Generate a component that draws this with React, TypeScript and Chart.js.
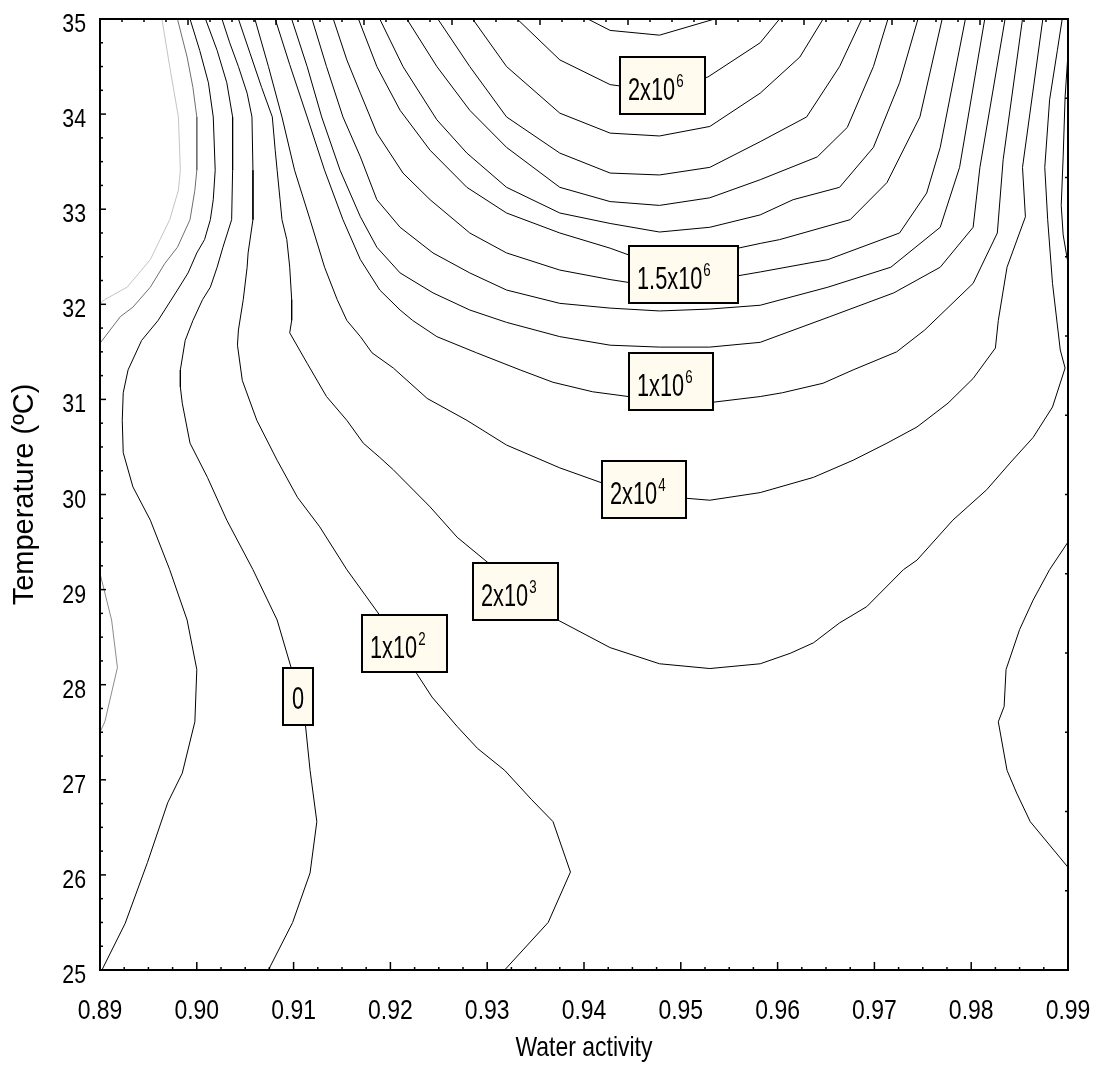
import React, { useEffect, useRef } from "react";
import { Chart, registerables } from "chart.js";

Chart.register(...registerables);

type Pt = [number, number]; // [water activity, temperature °C]

// Axis tick labels
const xTickLabels = ["0.89", "0.90", "0.91", "0.92", "0.93", "0.94", "0.95", "0.96", "0.97", "0.98", "0.99"];
const yTickLabels = ["25", "26", "27", "28", "29", "30", "31", "32", "33", "34", "35"];
const xTitle = "Water activity";
const yTitle = "Temperature (ºC)";

// Contour lines of the fitted response surface, [aw, T]
const contourNegA: Pt[] = [
  [0.8964, 35], [0.8972, 34.5], [0.8981, 33.97], [0.8983, 33.41], [0.8981, 33.2], [0.8972, 32.89],
  [0.8962, 32.68], [0.8952, 32.47], [0.8928, 32.18], [0.8905, 32.05], [0.89, 32.01],
];
const contourNegB: Pt[] = [
  [0.898, 35], [0.899, 34.6], [0.8996, 34.28], [0.9, 33.97], [0.9, 33.41], [0.8998, 33.2], [0.8993, 32.89],
  [0.898, 32.6], [0.8967, 32.43], [0.8952, 32.18], [0.8934, 31.97], [0.8921, 31.87], [0.89, 31.59],
];
const contourNegC: Pt[] = [
  [0.89, 29.17], [0.8912, 28.68], [0.8918, 28.18], [0.8905, 27.61], [0.89, 27.5],
];
const contourLow: Pt[] = [
  [0.8993, 35], [0.9003, 34.67], [0.9012, 34.33], [0.9017, 33.97], [0.9019, 33.41], [0.9017, 33.1],
  [0.9014, 32.89], [0.9008, 32.68], [0.9, 32.54], [0.8991, 32.33], [0.898, 32.15], [0.896, 31.83],
  [0.8943, 31.62], [0.8929, 31.31], [0.8924, 31.07], [0.8923, 30.78], [0.8924, 30.44], [0.8934, 30.08],
  [0.8952, 29.73], [0.8972, 29.21], [0.899, 28.68], [0.9, 28.16], [0.8998, 27.61], [0.8985, 27.07],
  [0.897, 26.76], [0.8949, 26.13], [0.8926, 25.49], [0.8902, 25],
];
const contour0: Pt[] = [
  [0.9009, 35], [0.9021, 34.67], [0.9031, 34.33], [0.9037, 33.97], [0.9037, 33.41], [0.9036, 32.89],
  [0.9027, 32.6], [0.9021, 32.39], [0.9014, 32.18], [0.9006, 32.05], [0.8996, 31.83], [0.8988, 31.62],
  [0.8983, 31.31], [0.8983, 31.13], [0.8985, 30.96], [0.8993, 30.54], [0.9011, 30.18], [0.9031, 29.73],
  [0.9058, 29.21], [0.9083, 28.68], [0.9098, 28.16], [0.9112, 27.6], [0.9117, 27.1], [0.9124, 26.56],
  [0.9117, 26.02], [0.9099, 25.5], [0.9074, 25],
];
const contour1e2: Pt[] = [
  [0.9026, 35], [0.9034, 34.75], [0.9043, 34.5], [0.9052, 34.22], [0.9057, 33.97], [0.9058, 33.41],
  [0.9058, 32.89], [0.9053, 32.54], [0.9052, 32.39], [0.9048, 32.05], [0.9043, 31.73], [0.9042, 31.57],
  [0.9047, 31.2], [0.9062, 30.78], [0.9083, 30.36], [0.9104, 29.97], [0.9127, 29.66], [0.9155, 29.21],
  [0.9189, 28.73], [0.9227, 28.12], [0.9243, 27.87], [0.9269, 27.56], [0.929, 27.33], [0.9318, 27.1],
  [0.9346, 26.79], [0.9368, 26.56], [0.9386, 26.03], [0.9363, 25.5], [0.9318, 25],
];
const contour1e2Right: Pt[] = [
  [0.99, 29.5], [0.9881, 29.21], [0.9864, 28.89], [0.985, 28.58], [0.9836, 28.16], [0.9834, 27.77],
  [0.9828, 27.61], [0.9837, 27.1], [0.9847, 26.86], [0.9861, 26.56], [0.99, 26.08],
];
const contour1e2RightTop: Pt[] = [
  [0.99, 34.64], [0.9897, 34.18], [0.9895, 33.55], [0.9893, 33.04], [0.9895, 32.73], [0.99, 32.43],
];
const contour2e3: Pt[] = [
  [0.9043, 35], [0.9055, 34.64], [0.9067, 34.28], [0.9078, 33.97], [0.9081, 33.62], [0.9083, 33.41],
  [0.9086, 33.1], [0.9088, 32.89], [0.9093, 32.68], [0.9096, 32.39], [0.9098, 32.05], [0.9098, 31.83],
  [0.9096, 31.7], [0.9114, 31.38], [0.9134, 31.03], [0.9155, 30.78], [0.9172, 30.54], [0.9189, 30.39],
  [0.9203, 30.26], [0.9241, 29.87], [0.9269, 29.55], [0.93, 29.29], [0.9373, 28.68], [0.9427, 28.39],
  [0.9478, 28.22], [0.953, 28.17], [0.9582, 28.22], [0.9613, 28.33], [0.9637, 28.44], [0.9664, 28.65],
  [0.9692, 28.82], [0.973, 29.21], [0.9744, 29.31], [0.9781, 29.73], [0.9816, 30.05], [0.984, 30.33],
  [0.9864, 30.6], [0.9884, 30.92], [0.9897, 31.33], [0.9892, 31.52], [0.9884, 32.22], [0.9879, 32.89],
  [0.9876, 33.44], [0.9881, 34.15], [0.9889, 34.67], [0.9894, 35],
];
const contour2e4: Pt[] = [
  [0.906, 35], [0.9074, 34.5], [0.9088, 33.97], [0.9101, 33.41], [0.9117, 32.89], [0.9132, 32.39],
  [0.9145, 32.05], [0.9155, 31.83], [0.9169, 31.66], [0.9181, 31.49], [0.9203, 31.33], [0.9238, 31.01],
  [0.9279, 30.78], [0.932, 30.52], [0.9375, 30.28], [0.9419, 30.12], [0.9506, 29.96], [0.953, 29.94],
  [0.9582, 30.02], [0.9637, 30.18], [0.9678, 30.36], [0.9713, 30.54], [0.9744, 30.71], [0.9776, 30.96],
  [0.9802, 31.22], [0.9825, 31.54], [0.9828, 31.83], [0.9837, 32.39], [0.9856, 32.92], [0.9853, 33.44],
  [0.9874, 35],
];
const contour1e6: Pt[] = [
  [0.9081, 35], [0.9096, 34.52], [0.9114, 33.97], [0.9132, 33.41], [0.9151, 32.89], [0.9169, 32.47],
  [0.9189, 32.15], [0.921, 31.94], [0.9223, 31.83], [0.9248, 31.66], [0.9289, 31.49], [0.9334, 31.31],
  [0.9368, 31.18], [0.9409, 31.08], [0.9446, 31.03], [0.9478, 30.99], [0.9533, 30.97], [0.9582, 31.03],
  [0.9605, 31.07], [0.9647, 31.17], [0.9678, 31.31], [0.9723, 31.5], [0.9752, 31.73], [0.9802, 32.22],
  [0.9827, 32.75], [0.9833, 33.52], [0.9853, 35],
];
const contour1e6b: Pt[] = [
  [0.9098, 35], [0.9114, 34.5], [0.9129, 33.97], [0.9148, 33.41], [0.9169, 32.92], [0.9186, 32.6],
  [0.921, 32.33], [0.9244, 32.12], [0.9282, 31.94], [0.932, 31.81], [0.9375, 31.66], [0.9427, 31.57],
  [0.9478, 31.55], [0.953, 31.55], [0.9582, 31.6], [0.9654, 31.87], [0.972, 32.12], [0.9768, 32.39],
  [0.9802, 32.81], [0.9809, 33.44], [0.9835, 35],
];
const contour1e6c: Pt[] = [
  [0.9119, 35], [0.9134, 34.5], [0.9151, 33.97], [0.9169, 33.55], [0.9186, 33.1], [0.921, 32.81],
  [0.9244, 32.54], [0.9282, 32.33], [0.932, 32.15], [0.9375, 32.01], [0.9427, 31.96], [0.9478, 31.93],
  [0.953, 31.95], [0.9582, 31.99], [0.9652, 32.18], [0.9717, 32.39], [0.9768, 32.81], [0.9788, 33.44],
  [0.9814, 35],
];
const contour1e6d: Pt[] = [
  [0.9141, 35], [0.9155, 34.57], [0.9169, 34.22], [0.9186, 33.8], [0.9213, 33.38], [0.9241, 33.1],
  [0.9282, 32.75], [0.932, 32.54], [0.9375, 32.36], [0.9427, 32.26], [0.9446, 32.23], [0.9478, 32.21],
  [0.9559, 32.3], [0.9582, 32.34], [0.9652, 32.47], [0.9726, 32.75], [0.9754, 33.17], [0.9768, 33.65],
  [0.9794, 35],
];
const contour15e6: Pt[] = [
  [0.9167, 35], [0.9186, 34.5], [0.921, 34.04], [0.9241, 33.62], [0.9279, 33.23], [0.932, 32.96],
  [0.9375, 32.75], [0.9427, 32.59], [0.9446, 32.52], [0.9478, 32.5], [0.9559, 32.59], [0.9582, 32.64],
  [0.9602, 32.68], [0.9675, 32.89], [0.9713, 33.28], [0.9747, 33.97], [0.977, 35],
];
const contour15e6b: Pt[] = [
  [0.9189, 35], [0.9213, 34.5], [0.9248, 33.94], [0.9279, 33.59], [0.932, 33.23], [0.9375, 32.96],
  [0.9427, 32.85], [0.9478, 32.76], [0.953, 32.81], [0.9582, 32.94], [0.9616, 33.1], [0.9664, 33.23],
  [0.9699, 33.65], [0.9726, 34.33], [0.9745, 35],
];
const contour15e6c: Pt[] = [
  [0.9217, 35], [0.9248, 34.5], [0.9282, 34.04], [0.932, 33.65], [0.9375, 33.23], [0.9427, 33.08],
  [0.9478, 33.04], [0.953, 33.12], [0.9582, 33.31], [0.9641, 33.55], [0.9672, 33.86], [0.9699, 34.5],
  [0.9714, 35],
];
const contour15e6d: Pt[] = [
  [0.9249, 35], [0.9282, 34.5], [0.932, 33.97], [0.9375, 33.59], [0.9427, 33.38], [0.9478, 33.36],
  [0.953, 33.44], [0.9582, 33.71], [0.963, 33.97], [0.9664, 34.5], [0.9687, 35],
];
const contour15e6e: Pt[] = [
  [0.9285, 35], [0.932, 34.5], [0.9375, 34.01], [0.9427, 33.8], [0.9478, 33.77], [0.953, 33.87],
  [0.9582, 34.22], [0.9623, 34.6], [0.9647, 35],
];
const contour2e6: Pt[] = [
  [0.9331, 35], [0.9375, 34.57], [0.9427, 34.31], [0.9478, 34.24], [0.9528, 34.39], [0.9582, 34.75],
  [0.9602, 35],
];
const contourTop: Pt[] = [
  [0.9404, 35], [0.9427, 34.88], [0.9478, 34.83], [0.9535, 35],
];

const blackContours = [
  contourLow, contour0, contour1e2, contour1e2Right, contour1e2RightTop, contour2e3, contour2e4,
  contour1e6, contour1e6b, contour1e6c, contour1e6d, contour15e6, contour15e6b, contour15e6c,
  contour15e6d, contour15e6e, contour2e6, contourTop,
];
const greyContours: { line: Pt[]; color: string }[] = [
  { line: contourNegA, color: "#c4c4c4" },
  { line: contourNegB, color: "#6e6e6e" },
  { line: contourNegC, color: "#8c8c8c" },
];

// Level labels, anchored at their box centres [aw, T]
const levelLabels = [
  { base: "2x10", exp: "6", aw: 0.9481, t: 34.3, w: 85 },
  { base: "1.5x10", exp: "6", aw: 0.9503, t: 32.31, w: 109 },
  { base: "1x10", exp: "6", aw: 0.949, t: 31.19, w: 84 },
  { base: "2x10", exp: "4", aw: 0.9462, t: 30.05, w: 84 },
  { base: "2x10", exp: "3", aw: 0.9329, t: 28.98, w: 85 },
  { base: "1x10", exp: "2", aw: 0.9215, t: 28.43, w: 85 },
  { base: "0", exp: "", aw: 0.9105, t: 27.88, w: 30 },
];

const SANS = "'Liberation Sans', Arial, Helvetica, sans-serif";

// condensed text: Liberation Sans squeezed horizontally
function drawText(
  ctx: CanvasRenderingContext2D,
  text: string,
  x: number,
  y: number,
  size: number,
  sx: number,
  align: "left" | "center" | "right"
) {
  ctx.save();
  ctx.font = `${size}px ${SANS}`;
  const w = ctx.measureText(text).width * sx;
  const left = align === "center" ? x - w / 2 : align === "right" ? x - w : x;
  ctx.translate(left, y);
  ctx.scale(sx, 1);
  ctx.textAlign = "left";
  ctx.textBaseline = "alphabetic";
  ctx.fillStyle = "#000";
  ctx.fillText(text, 0, 0);
  ctx.restore();
  return w;
}

const frameAndLabels = {
  id: "frameAndLabels",
  afterDatasetsDraw(chart: any) {
    const { ctx, chartArea: a, scales } = chart;
    const xs = scales.x;
    const ys = scales.y;
    ctx.save();

    // level label boxes
    const boxH = 57;
    for (const lab of levelLabels) {
      const cx = xs.getPixelForValue(lab.aw);
      const cy = ys.getPixelForValue(lab.t);
      const left = Math.round(cx - lab.w / 2);
      const top = Math.round(cy - boxH / 2);
      ctx.fillStyle = "#fffbef";
      ctx.fillRect(left, top, lab.w, boxH);
      ctx.strokeStyle = "#000";
      ctx.lineWidth = 2;
      ctx.strokeRect(left, top, lab.w, boxH);
      if (lab.exp) {
        const bw = drawText(ctx, lab.base, left + 8, top + 43, 32, 0.68, "left");
        drawText(ctx, lab.exp, left + 8 + bw + 1, top + 30, 19, 0.7, "left");
      } else {
        drawText(ctx, lab.base, left + lab.w / 2, top + 41, 32, 0.68, "center");
      }
    }

    // plot frame
    ctx.strokeStyle = "#000";
    ctx.lineWidth = 2;
    ctx.strokeRect(a.left, a.top, a.right - a.left, a.bottom - a.top);

    const seg = (x1: number, y1: number, x2: number, y2: number) => {
      ctx.beginPath();
      ctx.moveTo(x1, y1);
      ctx.lineTo(x2, y2);
      ctx.stroke();
    };
    ctx.lineWidth = 1.5;
    // bottom: major every 0.01, minor every 0.0025
    for (let k = 0; k <= 40; k++) {
      const px = xs.getPixelForValue(0.89 + k * 0.0025);
      seg(px, a.bottom, px, a.bottom - (k % 4 === 0 ? 8 : 3));
    }
    // left: major every 1 °C, minor every 0.25 °C
    for (let k = 0; k <= 40; k++) {
      const py = ys.getPixelForValue(25 + k * 0.25);
      seg(a.left, py, a.left + (k % 4 === 0 ? 6 : 3), py);
    }
    // top and right mirror ticks
    const w = a.right - a.left;
    const h = a.bottom - a.top;
    for (let k = 0; k <= 44; k++) {
      const px = a.left + (w * k) / 44;
      seg(px, a.top, px, a.top + (k % 4 === 0 ? 6 : 3));
    }
    for (let k = 0; k <= 12; k++) {
      const py = a.top + (h * k) / 12;
      seg(a.right, py, a.right - 3, py);
    }

    // tick labels
    xs.ticks.forEach((t: any, i: number) => {
      drawText(ctx, xTickLabels[i], xs.getPixelForValue(t.value), a.bottom + 49, 28, 0.82, "center");
    });
    ys.ticks.forEach((t: any, i: number) => {
      drawText(ctx, yTickLabels[i], a.left - 14, ys.getPixelForValue(t.value) + 13, 26, 0.82, "right");
    });
    // x axis title
    drawText(ctx, xTitle, (a.left + a.right) / 2, a.bottom + 86, 28, 0.82, "center");

    ctx.restore();
  },
};

export default function App() {
  const canvasRef = useRef<HTMLCanvasElement | null>(null);

  useEffect(() => {
    const canvas = canvasRef.current;
    if (!canvas) return;

    const toData = (line: Pt[]) => line.map(([x, y]) => ({ x, y }));
    const datasets: any[] = [
      ...greyContours.map((g) => ({
        data: toData(g.line),
        borderColor: g.color,
        borderWidth: 1,
      })),
      ...blackContours.map((line) => ({
        data: toData(line),
        borderColor: "#000",
        borderWidth: 1,
      })),
    ].map((d) => ({ ...d, showLine: true, pointRadius: 0, tension: 0, fill: false }));

    const noPad = (s: any) => {
      s.paddingTop = 0;
      s.paddingBottom = 0;
      s.paddingLeft = 0;
      s.paddingRight = 0;
    };

    const chart = new Chart(canvas, {
      type: "scatter",
      data: { datasets },
      options: {
        animation: false,
        responsive: false,
        devicePixelRatio: 1,
        layout: { padding: { left: 0, top: 11, right: 22, bottom: 0 } },
        plugins: { legend: { display: false }, tooltip: { enabled: false } },
        scales: {
          x: {
            type: "linear",
            min: 0.89,
            max: 0.99,
            grid: { display: false },
            border: { display: false },
            afterBuildTicks: (s: any) => {
              s.ticks = xTickLabels.map((l) => ({ value: parseFloat(l) }));
            },
            afterFit: (s: any) => {
              s.height = 108;
              noPad(s);
            },
            ticks: { display: false },
          },
          y: {
            type: "linear",
            min: 25,
            max: 35,
            grid: { display: false },
            border: { display: false },
            afterBuildTicks: (s: any) => {
              s.ticks = yTickLabels.map((l) => ({ value: parseFloat(l) }));
            },
            afterFit: (s: any) => {
              s.width = 92;
              noPad(s);
            },
            ticks: { display: false },
            title: {
              display: true,
              text: yTitle,
              color: "#000",
              font: { family: SANS, size: 29 },
              padding: { top: 0, bottom: 0 },
            },
          },
        },
      },
      plugins: [frameAndLabels],
    });

    return () => chart.destroy();
  }, []);

  return (
    <div style={{ width: 1082, height: 1070 }}>
      <canvas ref={canvasRef} width={1082} height={1070} style={{ display: "block" }} />
    </div>
  );
}
